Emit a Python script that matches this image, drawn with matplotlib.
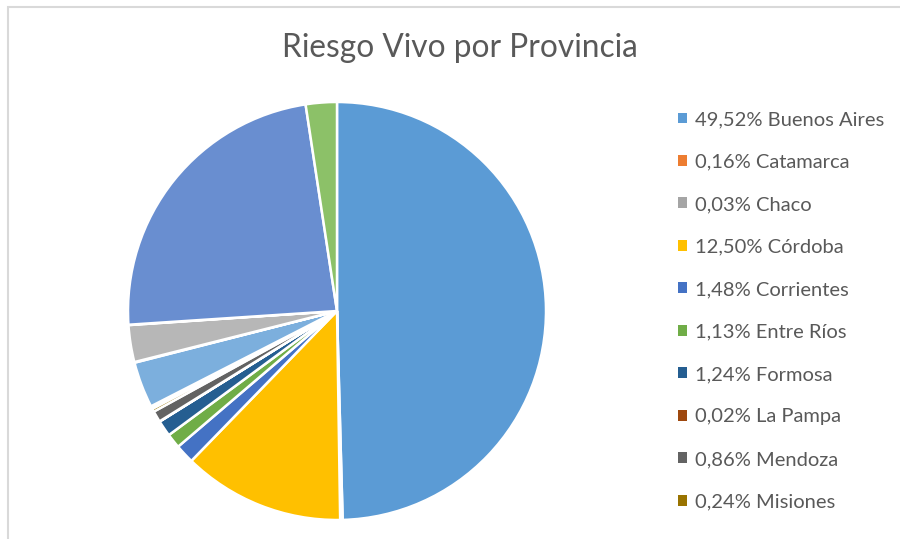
import matplotlib
matplotlib.use('Agg')
import matplotlib.pyplot as plt
from matplotlib.patches import Rectangle

# provinces in the order Excel stacks them, clockwise from 12 o'clock
provinces = ['Buenos Aires', 'Catamarca', 'Chaco', 'Córdoba', 'Corrientes',
             'Entre Ríos', 'Formosa', 'La Pampa', 'Mendoza', 'Misiones',
             'Neuquén', 'Río Negro', 'Salta', 'San Juan', 'San Luis',
             'Santa Cruz', 'Santa Fe', 'Santiago del Estero']
shares = [49.52, 0.16, 0.03, 12.50, 1.48,
          1.13, 1.24, 0.02, 0.86, 0.24,
          0.10, 0.12, 3.55, 0.05, 2.85,
          0.03, 23.62, 2.40]
# Office default palette (accents, then darker, then lighter)
colors = ['#5B9BD5', '#ED7D31', '#A5A5A5', '#FFC000', '#4472C4', '#70AD47',
          '#255E91', '#9E480E', '#636363', '#997300', '#264478', '#43682B',
          '#7CAFDD', '#F1975A', '#B7B7B7', '#FFCD33', '#698ED0', '#8CC168']
n_legend = 10  # Excel legend only has room for the first ten

text_color = '#595959'
font = ['Lato', 'DejaVu Sans']

fig = plt.figure(figsize=(9, 5.39), dpi=100)

# chart area frame (cut off on the right and bottom)
fig.patches.append(Rectangle((8 / 900, -0.05), 1.2, (539 - 7) / 539 + 0.05,
                             transform=fig.transFigure, fill=False,
                             edgecolor='#D9D9D9', linewidth=1.5))

ax = fig.add_axes([128 / 900, 19 / 539, 418 / 900, 418 / 539])
wedges, _ = ax.pie(shares, colors=colors, startangle=90, counterclock=False,
                   radius=1, wedgeprops=dict(edgecolor='white', linewidth=1.8))
ax.set_xlim(-1, 1)
ax.set_ylim(-1, 1)
ax.set_aspect('equal')
ax.axis('off')

fig.text(460 / 900, 1 - 48 / 539, 'Riesgo Vivo por Provincia',
         ha='center', va='center', fontsize=22.8, color=text_color,
         family=font)

labels = ['{:.2f}% {}'.format(v, p).replace('.', ',')
          for v, p in zip(shares[:n_legend], provinces[:n_legend])]
leg = fig.legend(wedges[:n_legend], labels, loc='upper left',
                 bbox_to_anchor=(660 / 900, 1 - 93 / 539), frameon=False,
                 prop=dict(family=font, size=14.5), labelcolor=text_color,
                 handlelength=0.45, handleheight=0.45, handletextpad=0.4,
                 labelspacing=1.265)
for h in leg.legend_handles:
    h.set_edgecolor('none')

fig.savefig('out.png', dpi=100, facecolor='white')
